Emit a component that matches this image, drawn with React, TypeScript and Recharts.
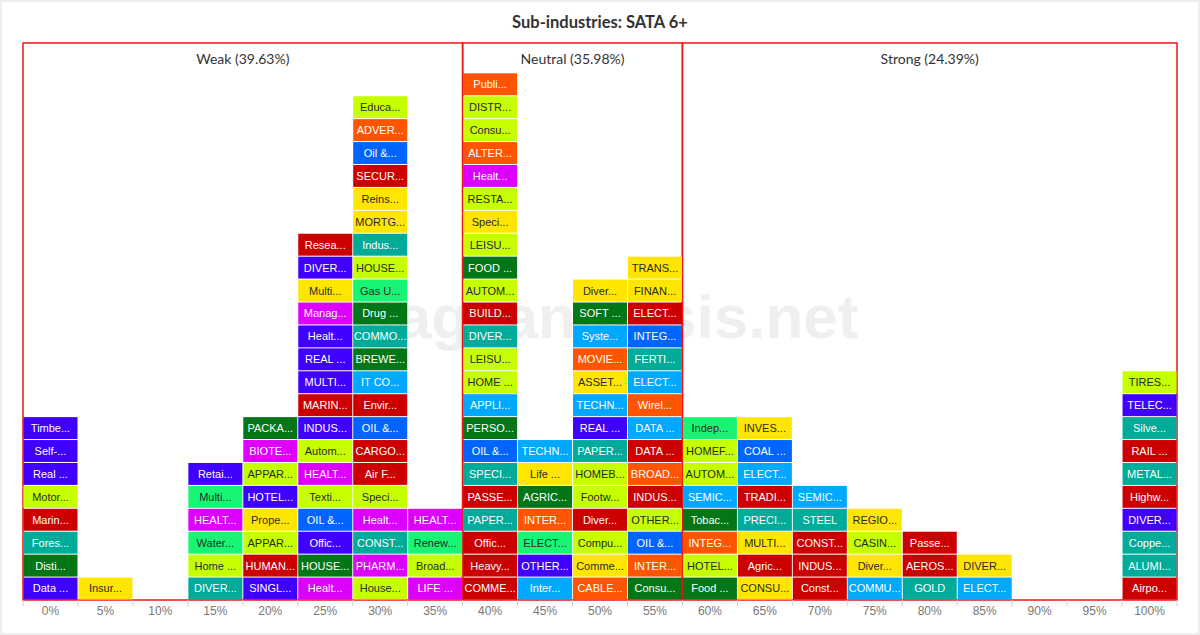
import { BarChart, Bar, XAxis, YAxis, ReferenceArea } from "recharts";

type Cell = [string, string];

const categories = [
  "0%", "5%", "10%", "15%", "20%", "25%", "30%", "35%", "40%", "45%", "50%",
  "55%", "60%", "65%", "70%", "75%", "80%", "85%", "90%", "95%", "100%",
];

// each column listed bottom to top: [label, colour key]
const col0: Cell[] = [
  ["Data ...", "violet"], ["Disti...", "green"], ["Fores...", "teal"], ["Marin...", "red"],
  ["Motor...", "lime"], ["Real ...", "violet"], ["Self-...", "violet"], ["Timbe...", "violet"],
];
const col5: Cell[] = [["Insur...", "yellow"]];
const col10: Cell[] = [];
const col15: Cell[] = [
  ["DIVER...", "teal"], ["Home ...", "lime"], ["Water...", "mint"], ["HEALT...", "magenta"],
  ["Multi...", "mint"], ["Retai...", "violet"],
];
const col20: Cell[] = [
  ["SINGL...", "violet"], ["HUMAN...", "red"], ["APPAR...", "lime"], ["Prope...", "yellow"],
  ["HOTEL...", "violet"], ["APPAR...", "lime"], ["BIOTE...", "magenta"], ["PACKA...", "green"],
];
const col25: Cell[] = [
  ["Healt...", "magenta"], ["HOUSE...", "green"], ["Offic...", "violet"], ["OIL &...", "azure"],
  ["Texti...", "lime"], ["HEALT...", "magenta"], ["Autom...", "lime"], ["INDUS...", "violet"],
  ["MARIN...", "red"], ["MULTI...", "violet"], ["REAL ...", "violet"], ["Healt...", "violet"],
  ["Manag...", "magenta"], ["Multi...", "yellow"], ["DIVER...", "violet"], ["Resea...", "red"],
];
const col30: Cell[] = [
  ["House...", "lime"], ["PHARM...", "magenta"], ["CONST...", "teal"], ["Healt...", "magenta"],
  ["Speci...", "lime"], ["Air F...", "red"], ["CARGO...", "red"], ["OIL &...", "azure"],
  ["Envir...", "red"], ["IT CO...", "sky"], ["BREWE...", "green"], ["COMMO...", "teal"],
  ["Drug ...", "green"], ["Gas U...", "mint"], ["HOUSE...", "lime"], ["Indus...", "teal"],
  ["MORTG...", "yellow"], ["Reins...", "yellow"], ["SECUR...", "red"], ["Oil &...", "azure"],
  ["ADVER...", "orange"], ["Educa...", "lime"],
];
const col35: Cell[] = [
  ["LIFE ...", "magenta"], ["Broad...", "lime"], ["Renew...", "mint"], ["HEALT...", "magenta"],
];
const col40: Cell[] = [
  ["COMME...", "red"], ["Heavy...", "red"], ["Offic...", "red"], ["PAPER...", "teal"],
  ["PASSE...", "red"], ["SPECI...", "teal"], ["OIL &...", "azure"], ["PERSO...", "green"],
  ["APPLI...", "sky"], ["HOME ...", "lime"], ["LEISU...", "lime"], ["DIVER...", "teal"],
  ["BUILD...", "red"], ["AUTOM...", "lime"], ["FOOD ...", "green"], ["LEISU...", "lime"],
  ["Speci...", "yellow"], ["RESTA...", "lime"], ["Healt...", "magenta"], ["ALTER...", "orange"],
  ["Consu...", "lime"], ["DISTR...", "lime"], ["Publi...", "orange"],
];
const col45: Cell[] = [
  ["Inter...", "sky"], ["OTHER...", "violet"], ["ELECT...", "mint"], ["INTER...", "orange"],
  ["AGRIC...", "green"], ["Life ...", "yellow"], ["TECHN...", "sky"],
];
const col50: Cell[] = [
  ["CABLE...", "orange"], ["Comme...", "yellow"], ["Compu...", "lime"], ["Diver...", "red"],
  ["Footw...", "lime"], ["HOMEB...", "lime"], ["PAPER...", "teal"], ["REAL ...", "violet"],
  ["TECHN...", "sky"], ["ASSET...", "yellow"], ["MOVIE...", "orange"], ["Syste...", "sky"],
  ["SOFT ...", "green"], ["Diver...", "yellow"],
];
const col55: Cell[] = [
  ["Consu...", "green"], ["INTER...", "orange"], ["OIL &...", "azure"], ["OTHER...", "lime"],
  ["INDUS...", "red"], ["BROAD...", "orange"], ["DATA ...", "red"], ["DATA ...", "sky"],
  ["Wirel...", "orange"], ["ELECT...", "sky"], ["FERTI...", "teal"], ["INTEG...", "azure"],
  ["ELECT...", "red"], ["FINAN...", "yellow"], ["TRANS...", "yellow"],
];
const col60: Cell[] = [
  ["Food ...", "green"], ["HOTEL...", "lime"], ["INTEG...", "orange"], ["Tobac...", "green"],
  ["SEMIC...", "sky"], ["AUTOM...", "lime"], ["HOMEF...", "lime"], ["Indep...", "mint"],
];
const col65: Cell[] = [
  ["CONSU...", "yellow"], ["Agric...", "red"], ["MULTI...", "yellow"], ["PRECI...", "teal"],
  ["TRADI...", "red"], ["ELECT...", "sky"], ["COAL ...", "azure"], ["INVES...", "yellow"],
];
const col70: Cell[] = [
  ["Const...", "red"], ["INDUS...", "red"], ["CONST...", "red"], ["STEEL", "teal"], ["SEMIC...", "sky"],
];
const col75: Cell[] = [
  ["COMMU...", "sky"], ["Diver...", "yellow"], ["CASIN...", "lime"], ["REGIO...", "yellow"],
];
const col80: Cell[] = [["GOLD", "teal"], ["AEROS...", "red"], ["Passe...", "red"]];
const col85: Cell[] = [["ELECT...", "sky"], ["DIVER...", "yellow"]];
const col90: Cell[] = [];
const col95: Cell[] = [];
const col100: Cell[] = [
  ["Airpo...", "red"], ["ALUMI...", "teal"], ["Coppe...", "teal"], ["DIVER...", "violet"],
  ["Highw...", "red"], ["METAL...", "teal"], ["RAIL ...", "red"], ["Silve...", "teal"],
  ["TELEC...", "violet"], ["TIRES...", "lime"],
];

const columns = [
  col0, col5, col10, col15, col20, col25, col30, col35, col40, col45, col50,
  col55, col60, col65, col70, col75, col80, col85, col90, col95, col100,
];

const regionNames = ["Weak (39.63%)", "Neutral (35.98%)", "Strong (24.39%)"];
const regionFrom = ["0%", "40%", "60%"];
const regionTo = ["35%", "55%", "100%"];

const palette: Record<string, string> = {
  violet: "#4000ff",
  lime: "#c6ff00",
  red: "#cc0000",
  teal: "#00ab9a",
  green: "#037618",
  yellow: "#ffe600",
  magenta: "#dd00ff",
  mint: "#18f575",
  sky: "#00a8ff",
  azure: "#0064ff",
  orange: "#ff5500",
};
const darkText = new Set(["lime", "yellow", "mint"]);

const maxLevel = Math.max(...columns.map((c) => c.length));

const chartData = categories.map((name, i) => {
  const row: Record<string, string | number> = { name };
  columns[i].forEach(([label, color], k) => {
    row[`s${k}`] = 1;
    row[`l${k}`] = label;
    row[`c${k}`] = color;
  });
  return row;
});

const CELL_FONT = "'Liberation Sans', Arial, Helvetica, sans-serif";

function cellShape(k: number) {
  return (props: any) => {
    const { x, y, width, height } = props;
    const row = props.payload ?? props;
    const label = row[`l${k}`];
    if (!label || !height) return <g />;
    const key = row[`c${k}`];
    return (
      <g>
        <rect
          x={x + 0.5}
          y={y + 0.5}
          width={width - 1}
          height={height - 1}
          fill={palette[key]}
        />
        <text
          x={x + width / 2}
          y={y + height / 2}
          dy="0.36em"
          textAnchor="middle"
          fontSize={11}
          fontFamily={CELL_FONT}
          fill={darkText.has(key) ? "#2a2a2a" : "#ffffff"}
        >
          {label}
        </text>
      </g>
    );
  };
}

function PercentTick(props: any) {
  const { x, y, payload, index, visibleTicksCount } = props;
  const half = payload?.offset ?? 27.45;
  const last = index === visibleTicksCount - 1;
  return (
    <g>
      <line x1={x - half} x2={x - half} y1={y} y2={y + 6} stroke="#d0d0d0" />
      {last && <line x1={x + half} x2={x + half} y1={y} y2={y + 6} stroke="#d0d0d0" />}
      <text
        x={x}
        y={y + 15}
        textAnchor="middle"
        fontSize={12}
        fontFamily={CELL_FONT}
        fill="#777"
      >
        {payload.value}
      </text>
    </g>
  );
}

export default function App() {
  return (
    <div
      style={{
        position: "absolute",
        left: 0,
        top: 0,
        width: 1200,
        height: 635,
        background: "#fff",
        boxSizing: "border-box",
        border: "2px solid #eeeeee",
      }}
    >
      {/* watermark sits behind the cells */}
      <svg
        width={1200}
        height={635}
        style={{ position: "absolute", left: -2, top: -2, pointerEvents: "none" }}
      >
        <text
          x={600}
          y={338}
          textAnchor="middle"
          fontSize={62}
          fontWeight={700}
          fontFamily="'Liberation Sans', Arial, sans-serif"
          fill="#efefef"
        >
          stageanalysis.net
        </text>
      </svg>
      <div style={{ position: "absolute", left: -2, top: -2 }}>
        <BarChart
          width={1200}
          height={635}
          data={chartData}
          margin={{ top: 43, right: 23, bottom: 0, left: 23 }}
          barCategoryGap={0}
          barGap={0}
        >
          <XAxis
            dataKey="name"
            height={35}
            axisLine={false}
            tickLine={false}
            tickSize={0}
            tickMargin={0}
            interval={0}
            tick={<PercentTick />}
          />
          <YAxis hide domain={[0, 24.3]} allowDataOverflow />
          {Array.from({ length: maxLevel }, (_, k) => (
            <Bar
              key={k}
              dataKey={`s${k}`}
              stackId="cells"
              isAnimationActive={false}
              shape={cellShape(k)}
            />
          ))}
          {regionNames.map((name, i) => (
            <ReferenceArea
              key={name}
              x1={regionFrom[i]}
              x2={regionTo[i]}
              fill="none"
              fillOpacity={0}
              stroke="#f01414"
              strokeWidth={1.5}
              ifOverflow="visible"
              label={{
                value: name,
                position: "insideTop",
                offset: 11,
                fill: "#333",
                fontSize: 14,
                fontFamily: "Lato, 'Open Sans', sans-serif",
              }}
            />
          ))}
        </BarChart>
      </div>
      <svg
        width={1200}
        height={40}
        style={{ position: "absolute", left: -2, top: -2, pointerEvents: "none" }}
      >
        <text
          x={600}
          y={28}
          textAnchor="middle"
          fontSize={16.5}
          fontWeight={700}
          fontFamily="Lato, 'Open Sans', sans-serif"
          fill="#333"
        >
          Sub-industries: SATA 6+
        </text>
      </svg>
    </div>
  );
}
